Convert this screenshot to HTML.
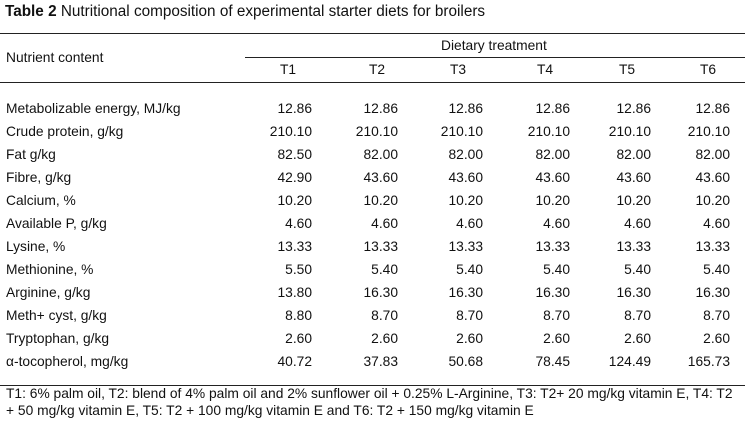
<!DOCTYPE html>
<html><head><meta charset="utf-8">
<style>
body{margin:0;background:#fff;}
#wrap{position:relative;width:745px;height:422px;overflow:hidden;font-family:"Liberation Sans",Arial,sans-serif;font-size:13.8px;color:#111;}
.t{position:absolute;white-space:nowrap;line-height:16px;}
.hl{position:absolute;height:1px;background:#222;}
</style></head>
<body>
<div id="wrap">
<div class="t" style="left:5px;top:4px;font-size:15.3px"><b>Table 2</b> Nutritional composition of experimental starter diets for broilers</div>
<div class="hl" style="left:0;top:33px;width:745px"></div>
<div class="t" style="left:6px;top:50px">Nutrient content</div>
<div class="t" style="left:441px;top:38px">Dietary treatment</div>
<div class="hl" style="left:245px;top:57px;width:500px"></div>
<div class="hl" style="left:0;top:82px;width:745px"></div>
<div class="hl" style="left:0;top:385px;width:745px"></div>
<div class="t" style="left:6px;top:385px;line-height:17px">T1: 6% palm oil, T2: blend of 4% palm oil and 2% sunflower oil + 0.25% L-Arginine, T3: T2+ 20 mg/kg vitamin E, T4: T2<br>+ 50 mg/kg vitamin E, T5: T2 + 100 mg/kg vitamin E and T6: T2 + 150 mg/kg vitamin E</div>
</div>
<script>
const treatments=["T1","T2","T3","T4","T5","T6"];
const nutrients=["Metabolizable energy, MJ/kg","Crude protein, g/kg","Fat g/kg","Fibre, g/kg","Calcium, %","Available P, g/kg","Lysine, %","Methionine, %","Arginine, g/kg","Meth+ cyst, g/kg","Tryptophan, g/kg","α-tocopherol, mg/kg"];
const values=[
["12.86","12.86","12.86","12.86","12.86","12.86"],
["210.10","210.10","210.10","210.10","210.10","210.10"],
["82.50","82.00","82.00","82.00","82.00","82.00"],
["42.90","43.60","43.60","43.60","43.60","43.60"],
["10.20","10.20","10.20","10.20","10.20","10.20"],
["4.60","4.60","4.60","4.60","4.60","4.60"],
["13.33","13.33","13.33","13.33","13.33","13.33"],
["5.50","5.40","5.40","5.40","5.40","5.40"],
["13.80","16.30","16.30","16.30","16.30","16.30"],
["8.80","8.70","8.70","8.70","8.70","8.70"],
["2.60","2.60","2.60","2.60","2.60","2.60"],
["40.72","37.83","50.68","78.45","124.49","165.73"]];
const wrap=document.getElementById('wrap');
const colRight=[312,398,483,570,651,730];
const headCenter=[288,377,458,545,627,708];
function rowY(i){return 109+i*23.0;}
treatments.forEach((t,j)=>{
 const d=document.createElement('div');d.className='t';
 
 
 d.textContent=t;d.style.top='62px';d.style.left=(headCenter[j]-20)+'px';d.style.width='40px';d.style.textAlign='center';
 wrap.appendChild(d);
});
nutrients.forEach((n,i)=>{
 const d=document.createElement('div');d.className='t';
 
 
 d.textContent=n;d.style.left='6px';d.style.top=(rowY(i)-8)+'px';wrap.appendChild(d);
 values[i].forEach((v,j)=>{
  const c=document.createElement('div');c.className='t';
  
  
  c.textContent=v;c.style.left=(colRight[j]-70)+'px';c.style.width='70px';c.style.textAlign='right';c.style.top=(rowY(i)-8)+'px';
  wrap.appendChild(c);
 });
});
</script>
</body></html>
